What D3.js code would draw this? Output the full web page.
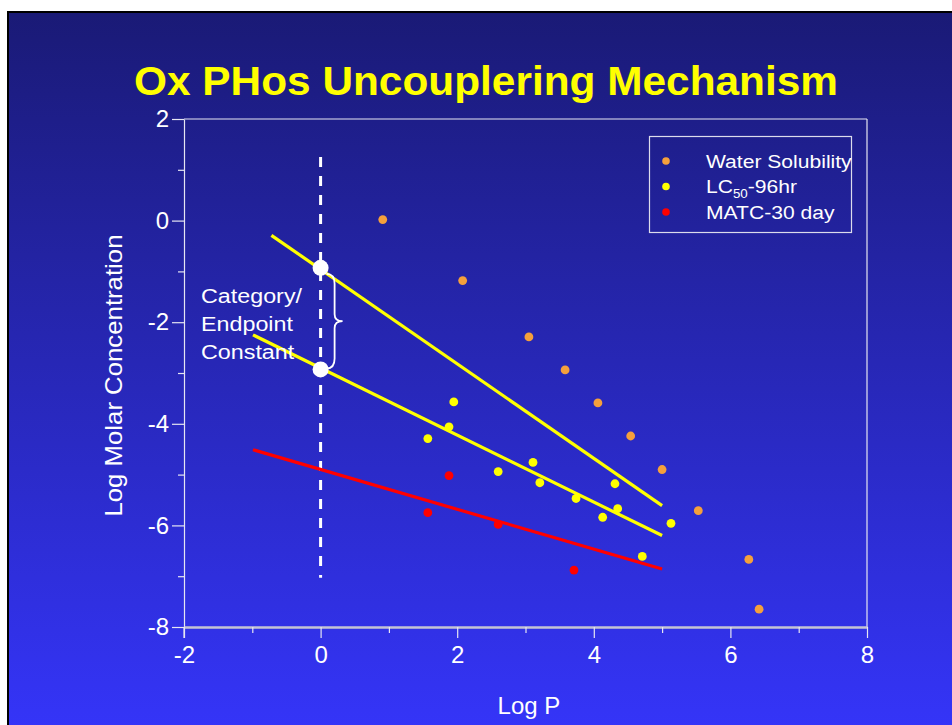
<!DOCTYPE html>
<html>
<head>
<meta charset="utf-8">
<script src="https://cdn.jsdelivr.net/npm/d3@7"></script>
<style>
  body { margin: 0; background: #ffffff; }
  svg { display: block; font-family: "Liberation Sans", Arial, sans-serif; }
</style>
</head>
<body>
<div id="chart"></div>
<script>
// Water Solubility points (Log P, Log Molar Concentration)
const waterX = [0.91, 2.08, 3.05, 3.58, 4.06, 4.54, 5.00, 5.53, 6.27, 6.42];
const waterY = [0.02, -1.18, -2.29, -2.94, -3.59, -4.24, -4.90, -5.71, -6.67, -7.65];
// LC50-96hr points
const lcX = [1.95, 1.88, 1.57, 2.60, 3.11, 3.21, 3.74, 4.31, 4.35, 4.13, 5.13, 4.71];
const lcY = [-3.57, -4.06, -4.29, -4.94, -4.76, -5.16, -5.47, -5.18, -5.67, -5.84, -5.96, -6.61];
// MATC-30 day points
const matcX = [1.88, 1.57, 2.60, 3.71];
const matcY = [-5.02, -5.75, -5.98, -6.88];

// fitted lines: start / end points
const fitX0 = [-0.72, -0.99, -0.99];
const fitY0 = [-0.29, -2.25, -4.51];
const fitX1 = [5.00, 5.00, 5.00];
const fitY1 = [-5.61, -6.20, -6.86];
const fitColors = ["#ffff00", "#ffff00", "#ff0000"];

// category / endpoint constants (intercepts at Log P = 0)
const constants = [-0.93, -2.93];

const legendNames = ["Water Solubility", "LC50-96hr", "MATC-30 day"];
const seriesColors = ["#f5a03c", "#ffff00", "#ff0000"];

const xMajor = [-2, 0, 2, 4, 6, 8];
const xMinor = [-1, 1, 3, 5, 7];
const yMajor = [-8, -6, -4, -2, 0, 2];
const yMinor = [-7, -5, -3, -1, 1];

const W = 952, H = 725;
const svg = d3.select("#chart").append("svg")
  .attr("width", W)
  .attr("height", H);

// slide background
const grad = svg.append("defs").append("linearGradient")
  .attr("id", "bg").attr("x1", "0%").attr("y1", "0%").attr("x2", "0%").attr("y2", "100%");
grad.append("stop").attr("offset", "0%").attr("stop-color", "#1a1a76");
grad.append("stop").attr("offset", "100%").attr("stop-color", "#3535fa");

svg.append("rect").attr("x", 7).attr("y", 11).attr("width", W).attr("height", H).attr("fill", "#000");
svg.append("rect").attr("x", 9).attr("y", 13).attr("width", W).attr("height", H).attr("fill", "url(#bg)");

// title
svg.append("text")
  .attr("x", 486).attr("y", 95)
  .attr("text-anchor", "middle")
  .attr("fill", "#ffff00")
  .attr("font-weight", "bold")
  .attr("font-size", 41)
  .attr("textLength", 704)
  .attr("lengthAdjust", "spacingAndGlyphs")
  .text("Ox PHos Uncouplering Mechanism");

const x = d3.scaleLinear().domain([-2, 8]).range([184, 867]);
const y = d3.scaleLinear().domain([-8, 2]).range([627, 119]);

const axisColor = "#e6e6f2";

// frame top and right
svg.append("line").attr("x1", x(-2)).attr("x2", x(8)).attr("y1", y(2)).attr("y2", y(2))
  .attr("stroke", axisColor).attr("stroke-width", 1.2);
svg.append("line").attr("x1", x(8)).attr("x2", x(8)).attr("y1", y(2)).attr("y2", y(-8))
  .attr("stroke", axisColor).attr("stroke-width", 1.2);

// y axis
const yAxis = svg.append("g").attr("transform", `translate(${x(-2)},0)`)
  .call(d3.axisLeft(y).tickValues(yMajor).tickSize(12).tickSizeOuter(0).tickPadding(3).tickFormat(d => String(d)));
svg.append("g").attr("transform", `translate(${x(-2)},0)`)
  .call(d3.axisLeft(y).tickValues(yMinor).tickSize(6).tickFormat(""))
  .call(g => g.select(".domain").remove());

// x axis
const xAxis = svg.append("g").attr("transform", `translate(0,${y(-8)})`)
  .call(d3.axisBottom(x).tickValues(xMajor).tickSize(11).tickSizeOuter(0).tickPadding(8).tickFormat(d => String(d)));
svg.append("g").attr("transform", `translate(0,${y(-8)})`)
  .call(d3.axisBottom(x).tickValues(xMinor).tickSize(6).tickFormat(""))
  .call(g => g.select(".domain").remove());

svg.selectAll(".tick line").attr("stroke", axisColor).attr("stroke-width", 1.2);
yAxis.select(".domain").attr("stroke", axisColor).attr("stroke-width", 1.2);
xAxis.select(".domain").attr("stroke", "#c4c4d4").attr("stroke-width", 2.5);
svg.selectAll(".tick text").attr("fill", "#ffffff").attr("font-size", 24)
  .attr("font-family", "'Liberation Sans', Arial, sans-serif");
// extend y axis line down to the -2 tick
svg.append("line").attr("x1", x(-2)).attr("x2", x(-2)).attr("y1", y(-8)).attr("y2", y(-8) + 11)
  .attr("stroke", axisColor).attr("stroke-width", 1.2);

// axis titles
svg.append("text")
  .attr("x", x(3.05)).attr("y", 714)
  .attr("text-anchor", "middle").attr("fill", "#fff").attr("font-size", 24)
  .text("Log P");
svg.append("text")
  .attr("transform", `translate(122,${y(-3.05)}) rotate(-90)`)
  .attr("text-anchor", "middle").attr("fill", "#fff").attr("font-size", 24)
  .attr("textLength", 282).attr("lengthAdjust", "spacingAndGlyphs")
  .text("Log Molar Concentration");

// dashed line at Log P = 0
svg.append("line")
  .attr("x1", x(0)).attr("x2", x(0)).attr("y1", y(1.25)).attr("y2", y(-7.03))
  .attr("stroke", "#fff").attr("stroke-width", 3).attr("stroke-dasharray", "10,9");

// fitted lines
svg.append("g").selectAll("line")
  .data(fitX0)
  .enter().append("line")
  .attr("x1", (d, i) => x(fitX0[i]))
  .attr("y1", (d, i) => y(fitY0[i]))
  .attr("x2", (d, i) => x(fitX1[i]))
  .attr("y2", (d, i) => y(fitY1[i]))
  .attr("stroke", (d, i) => fitColors[i])
  .attr("stroke-width", 3.2);

// data points
const series = [[waterX, waterY], [lcX, lcY], [matcX, matcY]];
series.forEach(function (s, k) {
  svg.append("g").selectAll("circle")
    .data(s[0])
    .enter().append("circle")
    .attr("cx", d => x(d))
    .attr("cy", (d, i) => y(s[1][i]))
    .attr("r", 4.4)
    .attr("fill", seriesColors[k]);
});

// white constant markers
svg.append("g").selectAll("circle")
  .data(constants)
  .enter().append("circle")
  .attr("cx", x(0))
  .attr("cy", d => y(d))
  .attr("r", 8)
  .attr("fill", "#fff");

// curly brace between the constants
const bTop = y(constants[0]) + 6, bBot = y(constants[1]) - 1;
const bMid = (bTop + bBot) / 2;
const bx0 = x(0) + 6, bx1 = x(0) + 14, bx2 = x(0) + 22;
svg.append("path")
  .attr("d", `M${bx0},${bTop} Q${bx1},${bTop} ${bx1},${bTop + 10} L${bx1},${bMid - 7} Q${bx1},${bMid} ${bx2},${bMid}` +
    ` Q${bx1},${bMid} ${bx1},${bMid + 7} L${bx1},${bBot - 10} Q${bx1},${bBot} ${bx0},${bBot}`)
  .attr("fill", "none").attr("stroke", "#fff").attr("stroke-width", 1.8);

// annotation text (slightly wide, like the slide)
const annot = svg.append("text")
  .attr("transform", "translate(201,0) scale(1.11,1)")
  .attr("fill", "#fff").attr("font-size", 21);
["Category/", "Endpoint", "Constant"].forEach(function (t, i) {
  annot.append("tspan").attr("x", 0).attr("y", 303 + i * 28).text(t);
});

// legend
const legend = svg.append("g");
legend.append("rect")
  .attr("x", 649.5).attr("y", 136.5).attr("width", 202).attr("height", 96)
  .attr("fill", "none").attr("stroke", "#dcdcec").attr("stroke-width", 1.2);
legendNames.forEach(function (name, i) {
  const cy = 161 + i * 25.5;
  legend.append("circle").attr("cx", 666).attr("cy", cy).attr("r", 3.8).attr("fill", seriesColors[i]);
  const t = legend.append("text")
    .attr("transform", `translate(706,${cy + 6.5}) scale(1.11,1)`)
    .attr("fill", "#fff").attr("font-size", 19);
  if (name === "LC50-96hr") {
    t.append("tspan").text("LC");
    t.append("tspan").attr("font-size", 12).attr("dy", 5).text("50");
    t.append("tspan").attr("dy", -5).text("-96hr");
  } else {
    t.text(name);
  }
});
</script>
</body>
</html>
